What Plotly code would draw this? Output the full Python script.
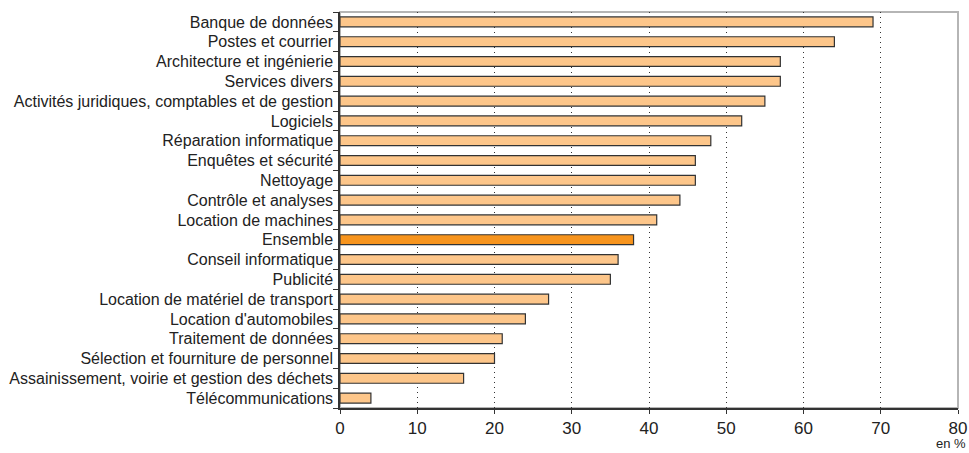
import plotly.graph_objects as go

categories = [
    "Banque de données",
    "Postes et courrier",
    "Architecture et ingénierie",
    "Services divers",
    "Activités juridiques, comptables et de gestion",
    "Logiciels",
    "Réparation informatique",
    "Enquêtes et sécurité",
    "Nettoyage",
    "Contrôle et analyses",
    "Location de machines",
    "Ensemble",
    "Conseil informatique",
    "Publicité",
    "Location de matériel de transport",
    "Location d'automobiles",
    "Traitement de données",
    "Sélection et fourniture de personnel",
    "Assainissement, voirie et gestion des déchets",
    "Télécommunications",
]
values = [69, 64, 57, 57, 55, 52, 48, 46, 46, 44, 41, 38, 36, 35, 27, 24, 21, 20, 16, 4]
x_ticks = [0, 10, 20, 30, 40, 50, 60, 70, 80]

light = "#FDC68A"
dark_orange = "#F7941D"
colors = [dark_orange if c == "Ensemble" else light for c in categories]

FONT = "Liberation Sans, Arial, sans-serif"

fig = go.Figure(
    go.Bar(
        x=values,
        y=categories,
        orientation="h",
        marker=dict(color=colors, line=dict(color="#333333", width=1.2)),
        width=0.5,
        hoverinfo="x+y",
    )
)

fig.update_layout(
    template="none",
    width=969,
    height=453,
    margin=dict(l=340, r=11, t=12, b=45, pad=0),
    paper_bgcolor="white",
    plot_bgcolor="white",
    font=dict(family=FONT, size=16, color="#222222"),
    showlegend=False,
    shapes=[
        dict(
            type="rect", xref="paper", yref="paper", x0=0, x1=1, y0=0, y1=1,
            line=dict(color="#B5B5B5", width=2), fillcolor="rgba(0,0,0,0)",
            layer="below",
        )
    ],
    annotations=[
        dict(
            text="en %", xref="paper", yref="paper", x=1.0, y=0, xanchor="right",
            yanchor="top", xshift=9, yshift=-27, showarrow=False, borderpad=0,
            font=dict(family=FONT, size=13, color="#222222"),
        )
    ],
)

fig.update_xaxes(
    automargin=False,
    range=[0, 80],
    tickvals=x_ticks,
    ticktext=[str(v) for v in x_ticks],
    showgrid=True,
    gridcolor="#333333",
    gridwidth=1,
    griddash="1px,4px",
    zeroline=False,
    showline=True,
    linecolor="#333333",
    linewidth=1.5,
    ticks="outside",
    ticklen=4,
    tickwidth=1,
    tickcolor="#333333",
    tickfont=dict(family=FONT, size=17, color="#222222"),
    fixedrange=True,
)

fig.update_yaxes(
    automargin=False,
    categoryorder="array",
    categoryarray=categories[::-1],
    autorange=False,
    range=[-0.5, len(categories) - 0.5],
    showgrid=False,
    zeroline=False,
    showline=True,
    linecolor="#333333",
    linewidth=1.5,
    ticks="outside",
    ticklen=5,
    tickwidth=1,
    tickcolor="#333333",
    tickson="boundaries",
    ticklabelstandoff=2,
    tickfont=dict(family=FONT, size=16, color="#222222"),
    fixedrange=True,
)

fig.write_html("out.html")
